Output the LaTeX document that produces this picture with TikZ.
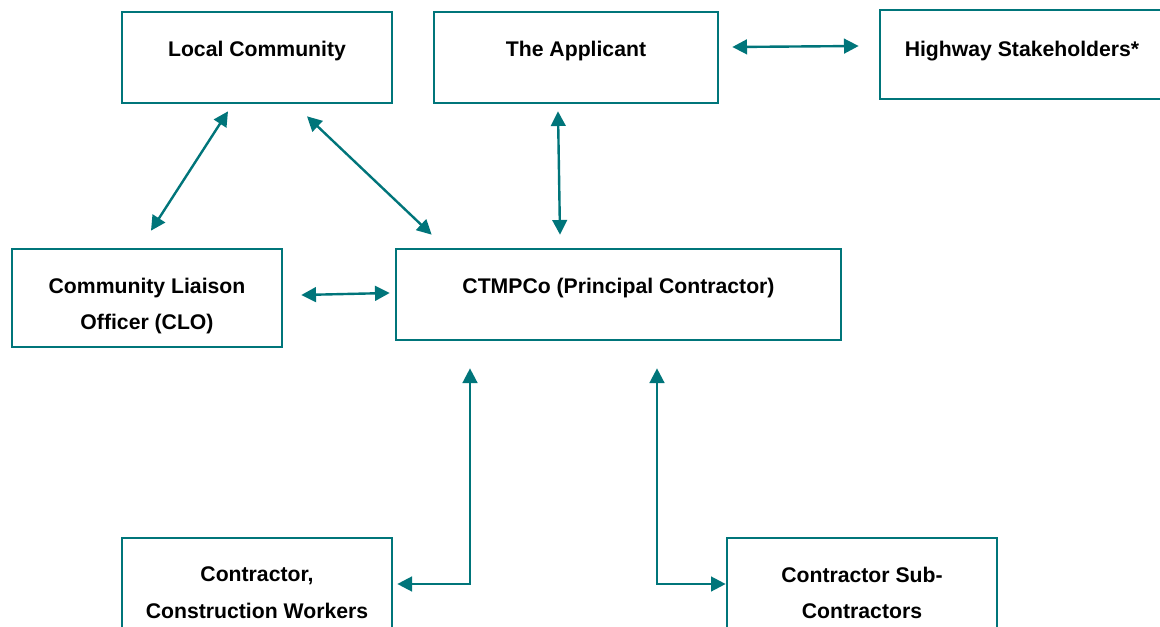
\documentclass[tikz,border=0pt]{standalone}
\usepackage{fontspec}
\setmainfont{Liberation Sans}
\usepackage{tikz}
\usetikzlibrary{arrows.meta,positioning}
\definecolor{ctmpteal}{RGB}{0,117,122}

\begin{document}
\begin{tikzpicture}[x=0.75pt,y=-0.75pt,
		box/.style={shape=rectangle,draw=ctmpteal,line width=2pt,inner sep=0pt,minimum width=#1},
		txt/.style={inner sep=0pt,align=center,font=\fontsize{15.9}{27.5}\selectfont\bfseries},
		link/.style={draw=ctmpteal,line width=1.8pt,{Triangle[length=11pt,width=11pt]}-{Triangle[length=11pt,width=11pt]}}]
			\clip (0,0) rectangle (1160,627);
			\fill[white] (0,0) rectangle (1160,627);
		
			\node[box=202.5pt,minimum height=68.25pt] (lc) at (257,57.5) {};
			\node[box=213pt,minimum height=68.25pt] (app) at (576,57.5) {};
			\node[box=213pt,minimum height=66.75pt] (hwy) at (1022,54.5) {};
			\node[box=202.5pt,minimum height=73.5pt] (clo) at (147,298) {};
			\node[box=333.75pt,minimum height=68.25pt] (ctmp) at (618.5,294.5) {};
			\node[box=202.5pt,minimum height=73.5pt] (con) at (257,587) {};
			\node[box=202.5pt,minimum height=73.5pt] (sub) at (862,587) {};
		
			\node[txt,below=22.5pt of lc.north] (lc text) {Local Community};
			\node[txt,below=22.5pt of app.north] (app text) {The Applicant};
			\node[txt,below=24pt of hwy.north] (hwy text) {Highway Stakeholders*};
			\node[txt,below=22.5pt of clo.north] (clo text) {Community Liaison\\Officer (CLO)};
			\node[txt,below=22.5pt of ctmp.north] (ctmp text) {CTMPCo (Principal Contractor)};
			\node[txt,below=22.5pt of con.north] (con text) {Contractor,\\Construction Workers};
			\node[txt,below=22.5pt of sub.north] (sub text) {Contractor Sub-\\Contractors};
		
			\draw [link] ([shift={(-29,7)}]lc.south) -- ([shift={(4,-17)}]clo.north);
			\draw [link] ([shift={(50,12)}]lc.south) -- ([shift={(37,-13)}]ctmp.north west);
			\draw [link] ([shift={(-18,7)}]app.south) -- ([shift={(-58.5,-13)}]ctmp.north);
			\draw [link] ([shift={(13,-10.5)}]app.east) -- ([shift={(-20,-8.5)}]hwy.west);
			\draw [link] ([shift={(18,-3)}]clo.east) -- ([shift={(-5,-1.5)}]ctmp.west);
			\draw [link] ([shift={(4,-3)}]con.east) -| ([shift={(-148.5,27)}]ctmp.south);
			\draw [link] ([shift={(0,-3)}]sub.west) -| ([shift={(38.5,27)}]ctmp.south);
		\end{tikzpicture}
\end{document}
